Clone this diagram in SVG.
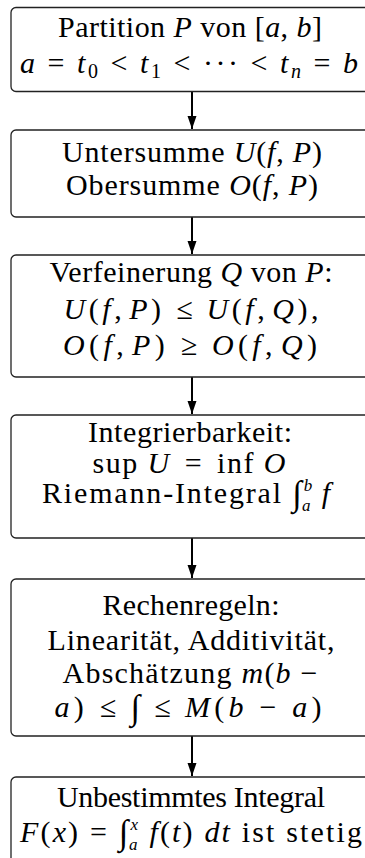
<svg xmlns="http://www.w3.org/2000/svg" width="365" height="858" viewBox="0 0 365 858">
<style>
.box{fill:#fff;stroke:#222;stroke-width:1.3}
.t{font-family:"Liberation Serif","Times New Roman",serif;font-size:30px;fill:#000;text-anchor:middle}
.i{font-style:italic}
.s{font-size:20px}
.l{font-size:17px;font-style:italic}
.g{font-size:35px;font-style:italic}
.conn line{stroke:#000;stroke-width:2;marker-end:url(#ah)}
</style>
<defs>
<marker id="ah" markerUnits="userSpaceOnUse" markerWidth="14" markerHeight="10" refX="13" refY="5" orient="auto">
<path d="M0,0.5 L13,5 L0,9.5 z" fill="#000"/>
</marker>
</defs>
<rect width="365" height="858" fill="#fff"/>
<g class="conn">
<line x1="192" y1="92" x2="192" y2="129"/>
<line x1="192" y1="217" x2="192" y2="254"/>
<line x1="192" y1="377" x2="192" y2="414"/>
<line x1="192" y1="538" x2="192" y2="578"/>
<line x1="192" y1="736" x2="192" y2="776"/>
</g>
<g id="n1">
<rect class="box" x="11" y="7.5" width="362" height="84" rx="5"/>
<text class="t" x="190" y="37" textLength="264" lengthAdjust="spacing">Partition <tspan class="i">P</tspan> von [<tspan class="i">a</tspan>, <tspan class="i">b</tspan>]</text>
<text class="t" x="189" y="73" textLength="338" lengthAdjust="spacing"><tspan class="i">a</tspan> = <tspan class="i">t</tspan><tspan class="s" dy="5">0</tspan><tspan dy="-5"> &lt; </tspan><tspan class="i">t</tspan><tspan class="s" dy="5">1</tspan><tspan dy="-5"> &lt; ··· &lt; </tspan><tspan class="i">t</tspan><tspan class="s i" dy="5">n</tspan><tspan dy="-5"> = </tspan><tspan class="i">b</tspan></text>
</g>
<g id="n2">
<rect class="box" x="11" y="130" width="362" height="87" rx="5"/>
<text class="t" x="192" y="162" textLength="260" lengthAdjust="spacing">Untersumme <tspan class="i">U</tspan>(<tspan class="i">f</tspan>, <tspan class="i">P</tspan>)</text>
<text class="t" x="192" y="195" textLength="252" lengthAdjust="spacing">Obersumme <tspan class="i">O</tspan>(<tspan class="i">f</tspan>, <tspan class="i">P</tspan>)</text>
</g>
<g id="n3">
<rect class="box" x="11" y="255" width="362" height="122" rx="5"/>
<text class="t" x="191" y="282" textLength="283" lengthAdjust="spacing">Verfeinerung <tspan class="i">Q</tspan> von <tspan class="i">P</tspan>:</text>
<text class="t" x="191" y="319" textLength="255" lengthAdjust="spacing"><tspan class="i">U</tspan>(<tspan class="i">f</tspan>,<tspan class="i" dx="4">P</tspan>)<tspan dx="12">≤</tspan><tspan class="i" dx="10">U</tspan>(<tspan class="i">f</tspan>,<tspan class="i" dx="4">Q</tspan>),</text>
<text class="t" x="190" y="355" textLength="254" lengthAdjust="spacing"><tspan class="i">O</tspan>(<tspan class="i">f</tspan>,<tspan class="i" dx="4">P</tspan>)<tspan dx="12">≥</tspan><tspan class="i" dx="10">O</tspan>(<tspan class="i">f</tspan>,<tspan class="i" dx="4">Q</tspan>)</text>
</g>
<g id="n4">
<rect class="box" x="11" y="415" width="362" height="123" rx="5"/>
<text class="t" x="190" y="442" textLength="204" lengthAdjust="spacing">Integrierbarkeit:</text>
<text class="t" x="189" y="473" textLength="193" lengthAdjust="spacing">sup <tspan class="i">U</tspan><tspan dx="14">=</tspan><tspan dx="14">inf</tspan> <tspan class="i">O</tspan></text>
<text class="t" x="186" y="503" textLength="288" lengthAdjust="spacing">Riemann-Integral <tspan class="g" dy="2">∫</tspan><tspan class="l" dy="-14">b</tspan><tspan class="l" dx="-12" dy="20">a</tspan><tspan class="i" dy="-8"> f</tspan></text>
</g>
<g id="n5">
<rect class="box" x="11" y="579" width="362" height="157" rx="5"/>
<text class="t" x="191" y="615" textLength="177" lengthAdjust="spacing">Rechenregeln:</text>
<text class="t" x="191" y="650" textLength="287" lengthAdjust="spacing">Linearität, Additivität,</text>
<text class="t" x="190" y="683" textLength="255" lengthAdjust="spacing">Abschätzung <tspan class="i">m</tspan>(<tspan class="i">b</tspan> −</text>
<text class="t" x="188" y="717" textLength="267" lengthAdjust="spacing"><tspan class="i">a</tspan>)<tspan dx="12">≤</tspan><tspan class="g" dx="10" dy="2">∫</tspan><tspan dx="10" dy="-2">≤</tspan><tspan class="i" dx="10">M</tspan>(<tspan class="i">b</tspan> − <tspan class="i">a</tspan>)</text>
</g>
<g id="n6">
<rect class="box" x="11" y="777" width="362" height="100" rx="5"/>
<text class="t" x="191" y="807" textLength="268" lengthAdjust="spacing">Unbestimmtes Integral</text>
<text class="t" x="191" y="842" textLength="342" lengthAdjust="spacing"><tspan class="i">F</tspan>(<tspan class="i">x</tspan>) = <tspan class="g" dy="2">∫</tspan><tspan class="l" dy="-14">x</tspan><tspan class="l" dx="-11" dy="20">a</tspan><tspan class="i" dy="-8"> f</tspan>(<tspan class="i">t</tspan>) <tspan class="i">dt</tspan> ist stetig</text>
</g>
</svg>
